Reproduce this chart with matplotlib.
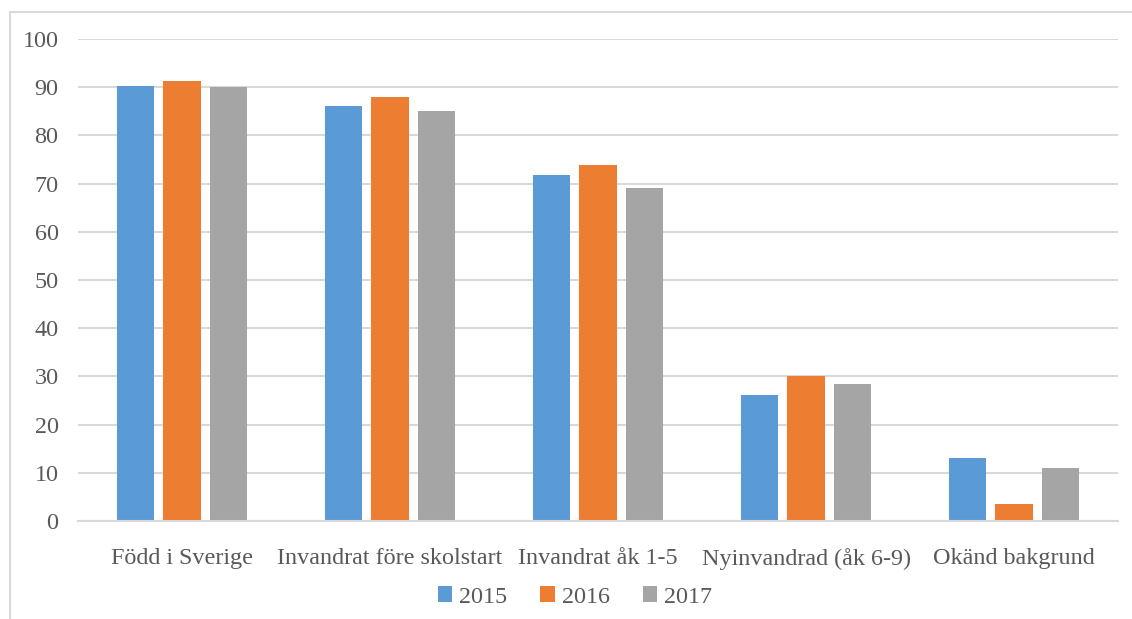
import matplotlib
matplotlib.use("Agg")
import matplotlib.pyplot as plt
import numpy as np
from matplotlib.lines import Line2D

categories = ["Född i Sverige", "Invandrat före skolstart", "Invandrat åk 1-5",
              "Nyinvandrad (åk 6-9)", "Okänd bakgrund"]
series_names = ["2015", "2016", "2017"]
v2015 = [90.2, 86.0, 71.8, 26.1, 13.1]
v2016 = [91.3, 87.9, 73.9, 30.1, 3.5]
v2017 = [90.0, 85.0, 69.1, 28.4, 11.0]
yticks = [0, 10, 20, 30, 40, 50, 60, 70, 80, 90, 100]

colors = ["#5b9bd5", "#ed7d31", "#a5a5a5"]
text_color = "#595959"
grid_color = "#d9d9d9"

plt.rcParams["font.family"] = ["Liberation Serif", "DejaVu Serif"]

W, H = 1132, 619
fs = 17.4
fig = plt.figure(figsize=(W / 100, H / 100), dpi=100)
ax = fig.add_axes([78 / W, 98 / H, 1040 / W, 482 / H])

x = np.arange(len(categories))
width = 0.178
step = width * 1.25
for i, (vals, name) in enumerate(zip([v2015, v2016, v2017], series_names)):
    ax.bar(x + (i - 1) * step, vals, width=width, color=colors[i], label=name, zorder=3)

ax.set_xlim(-0.5, len(categories) - 0.5)
ax.set_ylim(0, 100)
ax.set_yticks(yticks)
ax.set_xticks(x)
ax.set_xticklabels(categories)
for s in ["top", "right", "left"]:
    ax.spines[s].set_visible(False)
ax.spines["bottom"].set_color(grid_color)
ax.spines["bottom"].set_linewidth(1.5)
ax.spines["bottom"].set_zorder(4)
ax.yaxis.grid(True, color=grid_color, linewidth=1.5, zorder=0)
ax.set_axisbelow(True)
ax.tick_params(axis="both", length=0, colors=text_color, labelsize=fs)
ax.tick_params(axis="y", pad=14)
ax.tick_params(axis="x", pad=19.5)

leg = fig.legend(loc="center", bbox_to_anchor=(575 / W, 1 - 597 / H), ncol=3,
                 frameon=False, fontsize=fs, handlelength=0.58, handleheight=0.58,
                 handletextpad=0.29, columnspacing=1.4, labelcolor=text_color)

# chart-area frame (cropped)
fig.add_artist(Line2D([9.5 / W, 1.0], [1 - 11.5 / H, 1 - 11.5 / H], color=grid_color, linewidth=1.5))
fig.add_artist(Line2D([9.5 / W, 9.5 / W], [0, 1 - 11.5 / H], color=grid_color, linewidth=1.5))

fig.savefig("out.png", dpi=100)
